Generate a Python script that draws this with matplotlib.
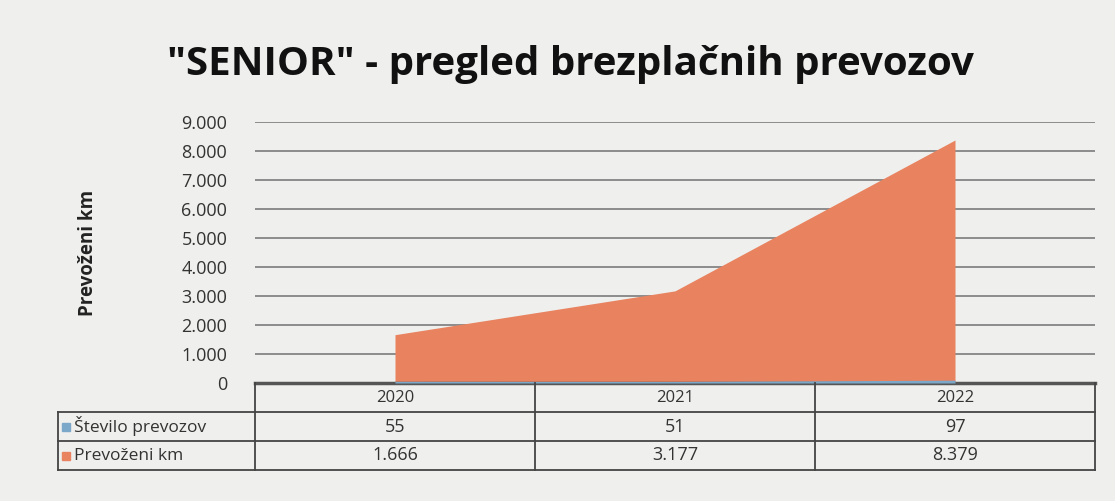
import numpy as np
import matplotlib.pyplot as plt
from matplotlib.patches import Rectangle
from matplotlib.lines import Line2D

# podatki
leta = ['2020', '2021', '2022']
stevilo_prevozov = [55, 51, 97]
prevozeni_km = [1666, 3177, 8379]
serije = ['Število prevozov', 'Prevoženi km']
y_ticks = [0, 1000, 2000, 3000, 4000, 5000, 6000, 7000, 8000, 9000]

def fmt(v):
    return f'{v:,}'.replace(',', '.')

plt.rcParams['font.family'] = ['Open Sans', 'DejaVu Sans']

W, H = 1115, 501
fig = plt.figure(figsize=(11.15, 5.01), dpi=100, facecolor='#efefed')
ax = fig.add_axes([255/W, 118/H, 840/W, 261/H])
ax.set_facecolor('#efefed')

x = np.arange(len(leta))
ax.fill_between(x, prevozeni_km, color='#e8825f', lw=0, zorder=2)
ax.fill_between(x, stevilo_prevozov, color='#7ba7c9', lw=0, zorder=3)

ax.set_xlim(-0.5, 2.5)
ax.set_ylim(0, 9000)
ax.set_yticks(y_ticks)
ax.set_yticklabels([fmt(v) if v else '0' for v in y_ticks], fontsize=13, color='#333333')
ax.yaxis.grid(True, color='#8c8c8c', lw=1.4, zorder=0)
ax.set_axisbelow(True)
ax.set_xticks([])
ax.tick_params(axis='y', length=0, pad=20)
for s in ['top', 'right', 'left']:
    ax.spines[s].set_visible(False)
ax.spines['bottom'].set_color('#555555')
ax.spines['bottom'].set_linewidth(2.5)

ax.set_ylabel('Prevoženi km', fontsize=13.5, fontweight='bold', labelpad=60, color='#222222')

fig.text(570/W, 1 - 65/H, '"SENIOR" - pregled brezplačnih prevozov', ha='center', va='center',
         fontsize=29, fontweight='bold', color='#111111')

# tabela s podatki (risana rocno)
def fx(px):
    return px / W

def fy(py):
    return 1 - py / H

col_x = [255, 535, 815, 1095]
row_y = [383, 412, 441, 470]
lc = '#444444'
def line(x0, x1, y0, y1):
    fig.add_artist(Line2D([fx(x0), fx(x1)], [fy(y0), fy(y1)], color=lc, lw=1.3,
                          transform=fig.transFigure))

for cx in col_x:
    line(cx, cx, row_y[0], row_y[-1])
line(58, 58, row_y[1], row_y[-1])
for i, ry in enumerate(row_y[1:]):
    line(58, col_x[-1], ry, ry)

for j, leto in enumerate(leta):
    xc = (col_x[j] + col_x[j + 1]) / 2
    fig.text(fx(xc), fy((row_y[0] + row_y[1]) / 2), leto, ha='center', va='center',
             fontsize=12, color='#333333')
    for i, vals in enumerate([stevilo_prevozov, prevozeni_km]):
        fig.text(fx(xc), fy((row_y[i + 1] + row_y[i + 2]) / 2), fmt(vals[j]),
                 ha='center', va='center', fontsize=13, color='#333333')

for i, (ime, col) in enumerate(zip(serije, ['#7ba7c9', '#e8825f'])):
    yc = (row_y[i + 1] + row_y[i + 2]) / 2
    fig.patches.append(Rectangle((fx(62), fy(yc + 4)), 8/W, 8/H,
                                 transform=fig.transFigure, color=col))
    fig.text(fx(74), fy(yc), ime, ha='left', va='center', fontsize=12.5, color='#333333')

fig.savefig('out.png', dpi=100, facecolor=fig.get_facecolor())
